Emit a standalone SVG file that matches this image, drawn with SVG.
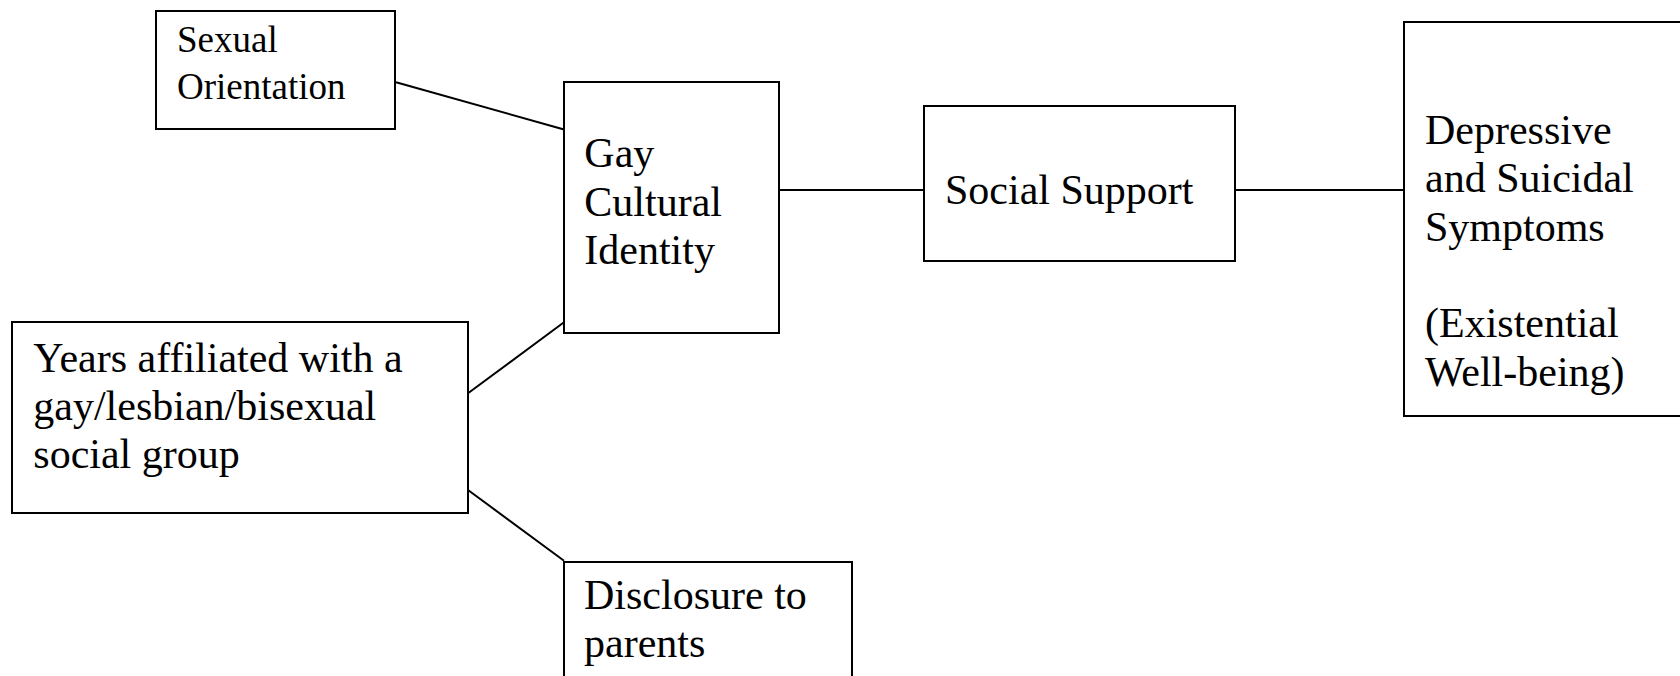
<svg xmlns="http://www.w3.org/2000/svg" width="1680" height="676" viewBox="0 0 1680 676">
<style>
.box{fill:#fff;stroke:#000;stroke-width:2}
.lbl{font-family:"Liberation Serif","Times New Roman",serif;font-size:42px;fill:#000;font-variant-ligatures:none}
.sm{font-size:37px}
.edge{stroke:#000;stroke-width:2;fill:none}
</style>
<rect width="1680" height="676" fill="#fff"/>
<g id="connectors">
<line class="edge" x1="396" y1="82.3" x2="564" y2="129.5"/>
<line class="edge" x1="468" y1="393.3" x2="564" y2="322.3"/>
<line class="edge" x1="468" y1="490" x2="564" y2="560.7"/>
<line class="edge" x1="780" y1="190" x2="924" y2="190"/>
<line class="edge" x1="1235" y1="190" x2="1404" y2="190"/>
</g>
<g id="sexual-orientation">
<rect class="box" x="156" y="11" width="239" height="118"/>
<text class="lbl sm" x="177" y="51.7">Sexual</text>
<text class="lbl sm" x="177" y="99.3">Orientation</text>
</g>
<g id="gay-cultural-identity">
<rect class="box" x="564" y="82" width="215" height="251"/>
<text class="lbl" x="584.3" y="166.7">Gay</text>
<text class="lbl" x="584.3" y="216">Cultural</text>
<text class="lbl" x="584.3" y="264.3">Identity</text>
</g>
<g id="social-support">
<rect class="box" x="924" y="106" width="311" height="155"/>
<text class="lbl" x="945" y="204.3">Social Support</text>
</g>
<g id="depressive-symptoms">
<rect class="box" x="1404" y="22" width="300" height="394"/>
<text class="lbl" x="1425" y="144">Depressive</text>
<text class="lbl" x="1425" y="192.3">and Suicidal</text>
<text class="lbl" x="1425" y="240.7">Symptoms</text>
<text class="lbl" x="1425" y="337.3">(Existential</text>
<text class="lbl" x="1425" y="385.7">Well-being)</text>
</g>
<g id="years-affiliated">
<rect class="box" x="12" y="322" width="456" height="191"/>
<text class="lbl" x="33.3" y="371.7">Years affiliated with a</text>
<text class="lbl" x="33.3" y="420.3">gay/lesbian/bisexual</text>
<text class="lbl" x="33.3" y="468.3">social group</text>
</g>
<g id="disclosure">
<rect class="box" x="564" y="562" width="288" height="130"/>
<text class="lbl" x="584" y="609">Disclosure to</text>
<text class="lbl" x="584" y="657">parents</text>
</g>
</svg>
